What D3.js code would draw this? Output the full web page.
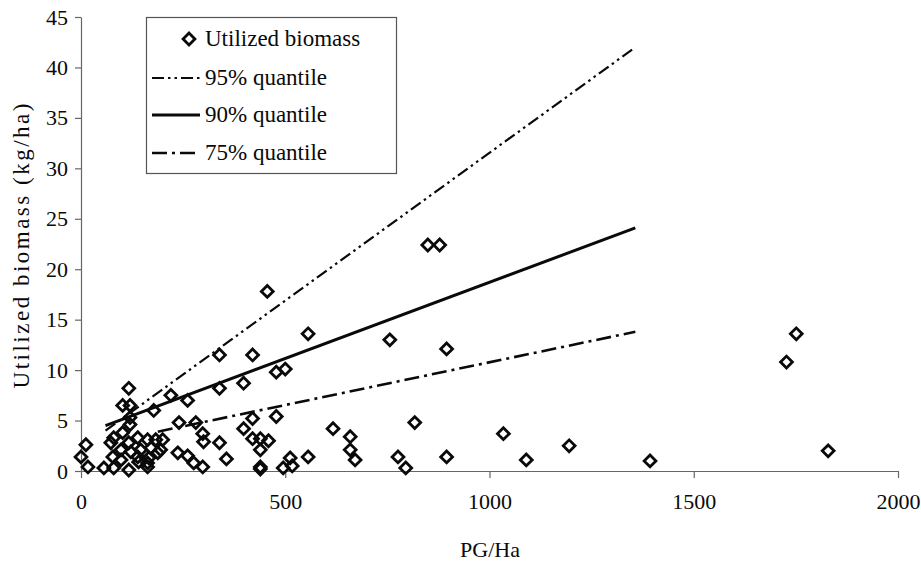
<!DOCTYPE html>
<html>
<head>
<meta charset="utf-8">
<script src="https://cdn.jsdelivr.net/npm/d3@7"></script>
<style>
  body { margin: 0; background: #fff; }
</style>
</head>
<body>
<svg id="chart" width="921" height="565"></svg>
<script>
// Utilized biomass (kg/ha) against PG/Ha for each observation
const pgPerHa = [
  0, 12, 17, 56, 80, 73, 80, 78, 98, 98,
  102, 102, 117, 117, 120, 120, 120, 117, 122, 139,
  141, 139, 146, 163, 163, 163, 166, 171, 178, 183,
  188, 195, 200, 220, 237, 240, 261, 261, 276, 281,
  298, 300, 298, 339, 339, 339, 356, 398, 398, 420,
  420, 420, 439, 439, 439, 439, 459, 456, 478, 500,
  478, 495, 512, 517, 556, 556, 617, 659, 659, 671,
  756, 776, 795, 817, 849, 878, 895, 895, 1034, 1090,
  1195, 1393, 1727, 1751, 1829
];
const biomass = [
  1.4, 2.6, 0.4, 0.3, 0.3, 2.8, 3.3, 1.4, 2.1, 1.1,
  3.8, 6.5, 2.8, 0.1, 6.5, 5.3, 4.6, 8.2, 1.9, 3.3,
  0.9, 1.4, 2.1, 3.1, 0.4, 0.8, 1.3, 2.3, 6.0, 3.1,
  1.8, 2.1, 3.1, 7.5, 1.8, 4.8, 7.0, 1.5, 0.8, 4.8,
  3.7, 2.9, 0.4, 2.8, 8.2, 11.5, 1.2, 8.7, 4.2, 11.5,
  5.2, 3.2, 3.2, 2.1, 0.4, 0.2, 3.0, 17.8, 9.8, 10.1,
  5.4, 0.3, 1.3, 0.5, 1.4, 13.6, 4.2, 3.4, 2.1, 1.1,
  13.0, 1.4, 0.3, 4.8, 22.4, 22.4, 12.1, 1.4, 3.7, 1.1,
  2.5, 1.0, 10.8, 13.6, 2.0
];

// Quantile regression lines (end points)
const quantileNames = ["95% quantile", "90% quantile", "75% quantile"];
const quantileX = [[60, 1357], [60, 1357], [188, 1357]];
const quantileY = [[4.0, 42.0], [4.5, 24.1], [3.9, 13.8]];

const xTicks = [0, 500, 1000, 1500, 2000];
const yTicks = [0, 5, 10, 15, 20, 25, 30, 35, 40, 45];

const xTitle = "PG/Ha";
const yTitle = "Utilized biomass (kg/ha)";
const pointName = "Utilized biomass";

// line styles per quantile
const quantileDash = ["12,4,2.5,4,2.5,4", null, "15,5,3,5"];
const quantileWidth = [2.2, 3, 2.6];

const serif = "Liberation Serif";
const ink = "#0a0a0a";
const svg = d3.select("#chart");
const x = d3.scaleLinear().domain([0, 2000]).range([81, 898]);
const y = d3.scaleLinear().domain([0, 45]).range([471, 17]);

const axisColor = "#666";

// x axis
const gx = svg.append("g")
  .attr("transform", `translate(0,${y(0)})`)
  .call(d3.axisBottom(x).tickValues(xTicks).tickFormat(d3.format("d"))
    .tickSize(7).tickSizeOuter(0).tickPadding(15));
gx.select(".domain").attr("stroke", axisColor).attr("stroke-width", 1.2);
gx.selectAll(".tick line").attr("stroke", axisColor).attr("stroke-width", 1.2);
gx.selectAll(".tick text")
  .attr("font-family", serif).attr("font-size", 22).attr("fill", ink);

// y axis
const gy = svg.append("g")
  .attr("transform", `translate(${x(0)},0)`)
  .call(d3.axisLeft(y).tickValues(yTicks).tickFormat(d3.format("d"))
    .tickSize(6).tickSizeOuter(0).tickPadding(7));
gy.select(".domain").attr("stroke", axisColor).attr("stroke-width", 1.2);
gy.selectAll(".tick line").attr("stroke", axisColor).attr("stroke-width", 1.2);
gy.selectAll(".tick text")
  .attr("font-family", serif).attr("font-size", 22).attr("fill", ink);

// axis titles
svg.append("text")
  .attr("x", 490).attr("y", 557)
  .attr("text-anchor", "middle")
  .attr("font-family", serif)
  .attr("font-size", 22)
  .attr("fill", ink)
  .text(xTitle);

svg.append("text")
  .attr("transform", "translate(29,246) rotate(-90)")
  .attr("text-anchor", "middle")
  .attr("font-family", serif)
  .attr("font-size", 23)
  .attr("fill", ink)
  .attr("textLength", 285)
  .attr("lengthAdjust", "spacing")
  .text(yTitle);

// quantile lines
const line = d3.line().x(d => x(d[0])).y(d => y(d[1]));
quantileNames.forEach((name, i) => {
  const pts = quantileX[i].map((xv, j) => [xv, quantileY[i][j]]);
  svg.append("path")
    .datum(pts)
    .attr("d", line)
    .attr("fill", "none")
    .attr("stroke", ink)
    .attr("stroke-width", quantileWidth[i])
    .attr("stroke-dasharray", quantileDash[i]);
});

// hollow diamond markers
const diamond = d3.symbol().type(d3.symbolSquare).size(70);
svg.append("g").selectAll("path")
  .data(pgPerHa.map((xv, i) => [xv, biomass[i]]))
  .join("path")
  .attr("d", diamond)
  .attr("transform", d => `translate(${x(d[0])},${y(d[1])}) rotate(45)`)
  .attr("fill", "none")
  .attr("stroke", ink)
  .attr("stroke-width", 2.8);

// legend
const legend = svg.append("g");
legend.append("rect")
  .attr("x", 146.5).attr("y", 17.5)
  .attr("width", 250).attr("height", 156)
  .attr("fill", "#fff")
  .attr("stroke", "#555")
  .attr("stroke-width", 1.2);

const rowBase = [46, 85, 122, 160];
legend.append("path")
  .attr("d", diamond)
  .attr("transform", `translate(189,${rowBase[0] - 7}) rotate(45)`)
  .attr("fill", "none")
  .attr("stroke", ink)
  .attr("stroke-width", 2.8);
legend.append("text")
  .attr("x", 205).attr("y", rowBase[0])
  .attr("font-family", serif)
  .attr("font-size", 23)
  .attr("fill", ink)
  .text(pointName);

quantileNames.forEach((name, i) => {
  const by = rowBase[i + 1];
  legend.append("line")
    .attr("x1", 152).attr("x2", 200)
    .attr("y1", by - 7).attr("y2", by - 7)
    .attr("stroke", ink)
    .attr("stroke-width", quantileWidth[i])
    .attr("stroke-dasharray", quantileDash[i]);
  legend.append("text")
    .attr("x", 205).attr("y", by)
    .attr("font-family", serif)
    .attr("font-size", 23)
    .attr("fill", ink)
    .text(name);
});
</script>
</body>
</html>
